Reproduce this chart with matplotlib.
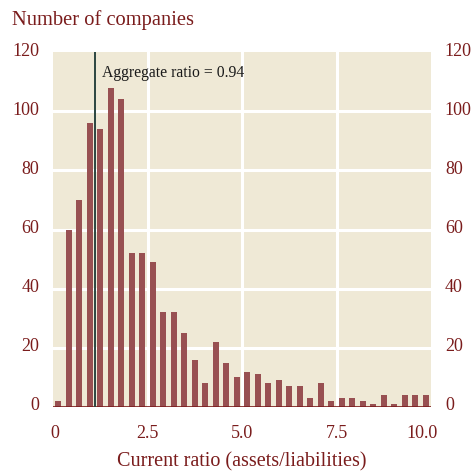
import numpy as np
import matplotlib
matplotlib.use("Agg")
import matplotlib.pyplot as plt
from matplotlib.transforms import ScaledTranslation

# Data
counts = [2, 60, 70, 96, 94, 108, 104, 52, 52, 49, 32, 32, 25, 16, 8, 22, 15, 10,
          12, 11, 8, 9, 7, 7, 3, 8, 2, 3, 3, 2, 1, 4, 1, 4, 4, 4]
bin_lo, bin_hi = 0.0, 10.0
aggregate_line_x = 1.1
aggregate_label = "Aggregate ratio = 0.94"
xticks = [0, 2.5, 5.0, 7.5, 10.0]
xtick_labels = ["0", "2.5", "5.0", "7.5", "10.0"]
yticks = [0, 20, 40, 60, 80, 100, 120]

RED = "#7a1c1c"
BAR = "#985052"
BG = "#efe9d6"

plt.rcParams['font.family'] = ['Liberation Serif', 'DejaVu Serif']

fig = plt.figure(figsize=(4.77, 4.74), dpi=100)
W, H = 477, 474
left, right, top, bottom = 53, 431, 52, 407
ax = fig.add_axes([left / W, 1 - bottom / H, (right - left) / W, (bottom - top) / H])
ax.set_facecolor(BG)

n = len(counts)
bw = (bin_hi - bin_lo) / n
centers = bin_lo + bw * (np.arange(n) + 0.5)
ax.bar(centers, counts, width=bw * 0.6, color=BAR, zorder=3)

ax.set_xlim(bin_lo, bin_hi)
ax.set_ylim(0, 120)

for y in yticks[1:-1]:
    ax.axhline(y, color="white", lw=2.2, zorder=1)
for x in xticks[1:-1]:
    ax.axvline(x, color="white", lw=2.2, zorder=1)
ax.axhline(0, color=RED, lw=1.2, zorder=4)

ax.axvline(aggregate_line_x, color="#2b4540", lw=1.4, zorder=5)
ax.text(aggregate_line_x + 0.2, 113, aggregate_label, fontsize=11.3, color="#1a1a1a",
        va="center", ha="left", zorder=6)

for s in ax.spines.values():
    s.set_visible(False)

ax.set_xticks(xticks)
ax.set_xticklabels(xtick_labels)
ax.set_yticks(yticks)
ax.tick_params(axis="both", length=0, colors=RED, labelsize=13)
ax.tick_params(axis="x", pad=13)
ax.tick_params(axis="y", pad=10, labelright=True, labelleft=True)
for lab in ax.get_yticklabels():
    lab.set_transform(lab.get_transform() + ScaledTranslation(0, 3 / 100, fig.dpi_scale_trans))
xl = ax.get_xticklabels()
xl[0].set_transform(xl[0].get_transform() + ScaledTranslation(2 / 100, 0, fig.dpi_scale_trans))
xl[-1].set_transform(xl[-1].get_transform() + ScaledTranslation(-9 / 100, 0, fig.dpi_scale_trans))

ax.set_xlabel("Current ratio (assets/liabilities)", color=RED, fontsize=14.5, labelpad=7)
fig.text(12 / W, 1 - 20 / H, "Number of companies", color=RED, fontsize=14.8,
         ha="left", va="center")

fig.savefig("out.png", dpi=100)
